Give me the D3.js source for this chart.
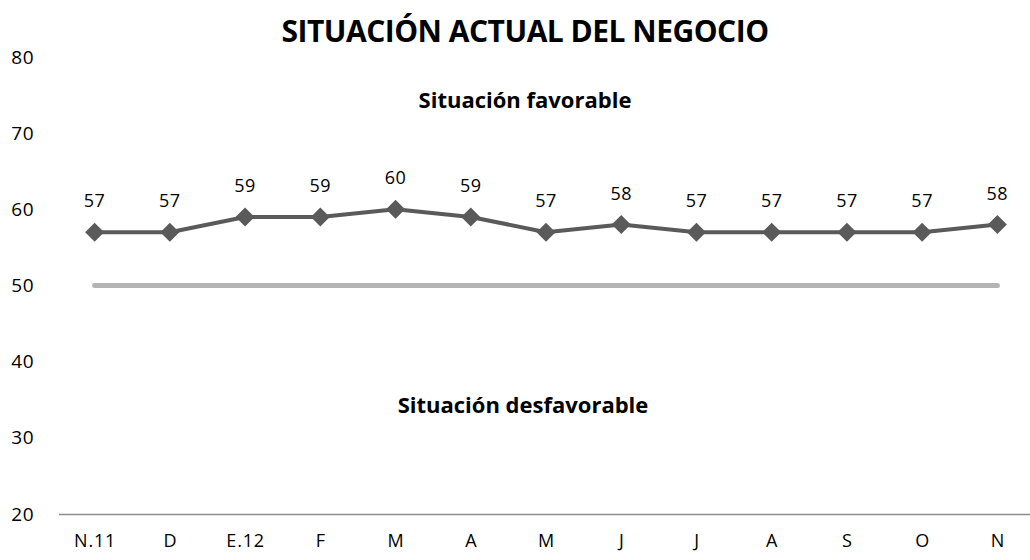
<!DOCTYPE html>
<html>
<head>
<meta charset="utf-8">
<script src="https://cdn.jsdelivr.net/npm/d3@7"></script>
<style>
  body { margin: 0; background: #fff; }
  svg { font-family: "Open Sans", sans-serif; }
</style>
</head>
<body>
<svg width="1030" height="560"></svg>
<script>
// data
const months = ["N.11", "D", "E.12", "F", "M", "A", "M", "J", "J", "A", "S", "O", "N"]
const values = [57, 57, 59, 59, 60, 59, 57, 58, 57, 57, 57, 57, 58]
const threshold = 50
const yTicks = [20, 30, 40, 50, 60, 70, 80]

const width = 1030, height = 560
const margin = {top: 57, right: -5, bottom: 46, left: 57}

const svg = d3.select("svg")

// index based point scale so repeated month letters keep their own slot
const x = d3.scalePoint()
  .domain(d3.range(months.length))
  .range([margin.left, width - margin.right])
  .padding(0.5)

const y = d3.scaleLinear()
  .domain([20, 80])
  .range([height - margin.bottom, margin.top])

// x axis
svg.append("g")
  .attr("transform", `translate(0,${y(20)})`)
  .call(d3.axisBottom(x).tickSize(0).tickPadding(20).tickFormat(i => months[i]))
  .call(g => g.select(".domain").attr("stroke", "#8c8c8c").attr("stroke-width", 1.5)
      .attr("d", `M${margin.left + 2},0.5H${width}`))
  .call(g => g.selectAll("text").attr("font-size", 18).attr("fill", "#000")
      .attr("letter-spacing", 0.8).attr("font-family", "Open Sans, sans-serif"))

// y axis labels only
svg.append("g")
  .attr("transform", "translate(34,0)")
  .call(d3.axisLeft(y).tickValues(yTicks).tickSize(0).tickPadding(0))
  .call(g => g.select(".domain").remove())
  .call(g => g.selectAll("text").attr("font-size", 19).attr("fill", "#000")
      .attr("letter-spacing", 0.5).attr("font-family", "Open Sans, sans-serif"))

// threshold line at 50
svg.append("line")
  .attr("x1", x(0)).attr("x2", x(months.length - 1))
  .attr("y1", y(threshold)).attr("y2", y(threshold))
  .attr("stroke", "#b4b4b4")
  .attr("stroke-width", 5)
  .attr("stroke-linecap", "round")

const line = d3.line()
  .x((d, i) => x(i))
  .y(d => y(d))

svg.append("path")
  .datum(values)
  .attr("fill", "none")
  .attr("stroke", "#5a5a5a")
  .attr("stroke-width", 4)
  .attr("stroke-linejoin", "round")
  .attr("d", line)

svg.append("g")
  .selectAll("path")
  .data(values)
  .join("path")
  .attr("d", d3.symbol(d3.symbolDiamond2, 230))
  .attr("transform", (d, i) => `translate(${x(i)},${y(d)})`)
  .attr("fill", "#5a5a5a")

svg.append("g")
  .selectAll("text")
  .data(values)
  .join("text")
  .attr("x", (d, i) => x(i))
  .attr("y", d => y(d) - 25)
  .attr("text-anchor", "middle")
  .attr("font-size", 18)
  .attr("letter-spacing", 0.5)
  .text(d => d)

// title and zone labels
svg.append("text")
  .attr("x", 525).attr("y", 42)
  .attr("text-anchor", "middle")
  .attr("font-size", 30).attr("font-weight", "bold")
  .attr("letter-spacing", -0.5)
  .text("SITUACIÓN ACTUAL DEL NEGOCIO")

svg.append("text")
  .attr("x", 525).attr("y", 108)
  .attr("text-anchor", "middle")
  .attr("font-size", 22).attr("font-weight", "bold")
  .text("Situación favorable")

svg.append("text")
  .attr("x", 523).attr("y", 413)
  .attr("text-anchor", "middle")
  .attr("font-size", 22).attr("font-weight", "bold")
  .text("Situación desfavorable")
</script>
</body>
</html>
